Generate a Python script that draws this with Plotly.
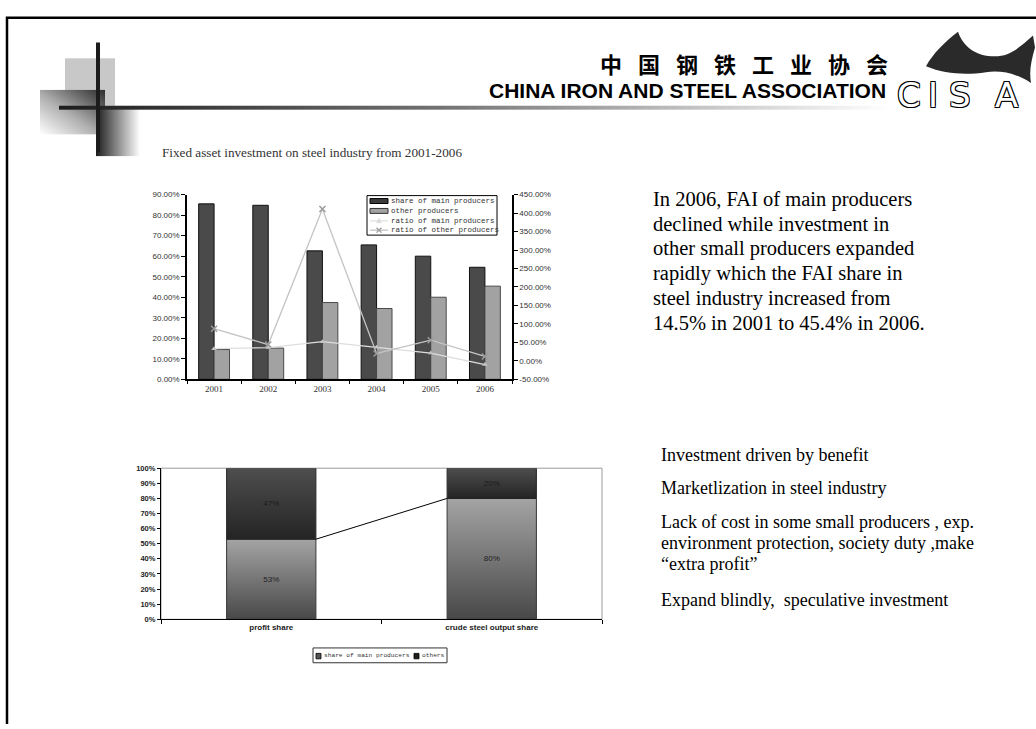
import base64
import plotly.graph_objects as go

W, H = 1036, 729

# ---------------- data ----------------
years = ["2001", "2002", "2003", "2004", "2005", "2006"]
main_share = [85.5, 84.8, 62.6, 65.5, 60.0, 54.6]
other_share = [14.5, 15.2, 37.4, 34.5, 40.0, 45.4]
ratio_main = [33, 36, 52, 37, 21, -10]
ratio_other = [87, 44, 411, 20, 56, 12]
top_names = ["share of main producers", "other producers",
             "ratio of main producers", "ratio of other producers"]
left_ticks = [0, 10, 20, 30, 40, 50, 60, 70, 80, 90]
right_ticks = [-50, 0, 50, 100, 150, 200, 250, 300, 350, 400, 450]

share_cats = ["profit share", "crude steel output share"]
main_part = [53, 80]
others_part = [47, 20]
bottom_names = ["share of main producers", "others"]
bottom_ticks = [0, 10, 20, 30, 40, 50, 60, 70, 80, 90, 100]

title_cn = "中国钢铁工业协会"
title_en = "CHINA IRON AND STEEL ASSOCIATION"
logo_letters = ["C", "I", "S", "A"]
subtitle = "Fixed asset investment on steel industry from 2001-2006"
para_lines = [
    "In 2006, FAI of main producers",
    "declined while investment in",
    "other small producers expanded",
    "rapidly which the FAI share in",
    "steel industry increased from",
    "14.5% in 2001 to 45.4% in 2006.",
]
bullet_lines = [
    "Investment driven by benefit",
    "Marketlization in steel industry",
    "Lack of cost in some small producers , exp.",
    "environment protection, society duty ,make",
    "\u201cextra profit\u201d",
    "Expand blindly,  speculative investment",
]


def px(x):
    return x / W


def py(y):
    return 1 - y / H


def svg_data(svg_text):
    return "data:image/svg+xml;base64," + base64.b64encode(svg_text.encode("utf-8")).decode("ascii")


def vgrad(top_col, bot_col):
    return svg_data(
        '<svg xmlns="http://www.w3.org/2000/svg" width="100" height="100" viewBox="0 0 100 100" '
        'preserveAspectRatio="none"><defs><linearGradient id="g" x1="0" y1="0" x2="0" y2="1">'
        f'<stop offset="0" stop-color="{top_col}"/><stop offset="1" stop-color="{bot_col}"/>'
        '</linearGradient></defs><rect x="0" y="0" width="100" height="100" fill="url(#g)"/></svg>')


# ---------------- background decoration (svg image) ----------------
svg = """<svg xmlns="http://www.w3.org/2000/svg" width="1036" height="729" viewBox="0 0 1036 729">
<defs>
<linearGradient id="hl" x1="0" y1="0" x2="1" y2="0">
<stop offset="0" stop-color="#1c1c1c"/><stop offset="0.45" stop-color="#707070"/><stop offset="1" stop-color="#ffffff"/>
</linearGradient>
<linearGradient id="sq" x1="1" y1="0" x2="0" y2="1">
<stop offset="0" stop-color="#2c2c2c"/><stop offset="0.55" stop-color="#b0b0b0"/><stop offset="1" stop-color="#ffffff"/>
</linearGradient>
<linearGradient id="vr" x1="0" y1="0" x2="1" y2="0">
<stop offset="0" stop-color="#1c1c1c"/><stop offset="1" stop-color="#ffffff"/>
</linearGradient>
</defs>
<rect x="65" y="55" width="50" height="48" fill="#c8c8c8"/>
<rect x="40" y="87" width="65" height="45" fill="url(#sq)"/>
<rect x="96" y="106" width="44" height="48" fill="url(#vr)"/>
<rect x="59" y="103" width="830" height="4" fill="url(#hl)"/>
<rect x="96" y="39" width="4" height="111" fill="#1c1c1c"/>
<path d="M7 731 L7 14 L1038 14" fill="none" stroke="#000" stroke-width="2.5"/>
<path d="M926 63 C933 50 945 38 958 28 C963 43 976 53 995 53 C1010 53 1021 43 1033 32 L1035 44 C1031 58 1029 68 1031 80 C1016 70 1001 67 986 69 C966 72 945 71 926 63 Z" fill="#2a2a2a"/>
</svg>"""

images = [dict(source=svg_data(svg), xref="paper", yref="paper", x=0, y=1, sizex=1, sizey=1,
               xanchor="left", yanchor="top", sizing="stretch", layer="below")]

fig = go.Figure()

# ---------------- top chart ----------------
fig.add_trace(go.Bar(x=years, y=main_share, name=top_names[0], xaxis="x", yaxis="y",
                     marker=dict(color="#4a4a4a", line=dict(color="#111111", width=1)),
                     showlegend=False))
fig.add_trace(go.Bar(x=years, y=other_share, name=top_names[1], xaxis="x", yaxis="y",
                     marker=dict(color="#a2a2a2", line=dict(color="#4a4a4a", width=1)),
                     showlegend=False))
fig.add_trace(go.Scatter(x=years, y=ratio_main, name=top_names[2], xaxis="x", yaxis="y2",
                         mode="lines+markers", line=dict(color="#dedede", width=1.3),
                         marker=dict(symbol="triangle-up", size=5, color="#c4c4c4"),
                         showlegend=False))
fig.add_trace(go.Scatter(x=years, y=ratio_other, name=top_names[3], xaxis="x", yaxis="y2",
                         mode="lines+markers", line=dict(color="#c4c4c4", width=1.3),
                         marker=dict(symbol="x-thin-open", size=6, color="#9a9a9a",
                                     line=dict(width=1.5, color="#9a9a9a")),
                         showlegend=False))

# ---------------- bottom chart ----------------
BW = 0.405
fig.add_trace(go.Bar(x=share_cats, y=main_part, name=bottom_names[0], xaxis="x2", yaxis="y3",
                     offsetgroup="s", width=BW,
                     marker=dict(color="rgba(0,0,0,0)", line=dict(color="#333333", width=1)),
                     text=[f"{v}%" for v in main_part], texttemplate="%{text}",
                     textposition="inside", insidetextanchor="middle", textangle=0,
                     textfont=dict(family="Liberation Sans", size=8, color="#222222"),
                     showlegend=False))
fig.add_trace(go.Bar(x=share_cats, y=others_part, base=main_part, name=bottom_names[1],
                     xaxis="x2", yaxis="y3", offsetgroup="s", width=BW,
                     marker=dict(color="rgba(0,0,0,0)", line=dict(color="#222222", width=1)),
                     text=[f"{v}%" for v in others_part], texttemplate="%{text}",
                     textposition="inside", insidetextanchor="middle", textangle=0,
                     textfont=dict(family="Liberation Sans", size=8, color="#1a1a1a"),
                     showlegend=False))
fig.add_trace(go.Scatter(x=[0 + BW / 2, 1 - BW / 2], y=[main_part[0], main_part[1]],
                         xaxis="x3", yaxis="y3", mode="lines",
                         line=dict(color="#000000", width=1), showlegend=False,
                         hoverinfo="skip"))

# gradient fills under the (transparent) stacked bars
grad_main = vgrad("#a4a4a4", "#484848")
grad_oth = vgrad("#4e4e4e", "#242424")
for i, (m, o) in enumerate(zip(main_part, others_part)):
    images.append(dict(source=grad_main, xref="x2", yref="y3", x=i - BW / 2, y=m,
                       sizex=BW, sizey=m, xanchor="left", yanchor="top",
                       sizing="stretch", layer="below"))
    images.append(dict(source=grad_oth, xref="x2", yref="y3", x=i - BW / 2, y=m + o,
                       sizex=BW, sizey=o, xanchor="left", yanchor="top",
                       sizing="stretch", layer="below"))

shapes = []
annotations = []

# ---------------- manual legend for top chart ----------------
lx0, lx1, ly0, ly1 = 367, 497, 194, 234
shapes.append(dict(type="rect", xref="paper", yref="paper", x0=px(lx0), x1=px(lx1),
                   y0=py(ly1), y1=py(ly0), line=dict(color="#000", width=1),
                   fillcolor="white", layer="above"))
rows = [199.5, 209.5, 219.5, 229]
shapes.append(dict(type="rect", xref="paper", yref="paper", x0=px(370), x1=px(388),
                   y0=py(rows[0] + 2.5), y1=py(rows[0] - 2.5), fillcolor="#3a3a3a",
                   line=dict(color="#000", width=1), layer="above"))
shapes.append(dict(type="rect", xref="paper", yref="paper", x0=px(370), x1=px(388),
                   y0=py(rows[1] + 2.5), y1=py(rows[1] - 2.5), fillcolor="#a2a2a2",
                   line=dict(color="#333", width=1), layer="above"))
shapes.append(dict(type="line", xref="paper", yref="paper", x0=px(370), x1=px(388),
                   y0=py(rows[2]), y1=py(rows[2]), line=dict(color="#e2e2e2", width=1.3),
                   layer="above"))
shapes.append(dict(type="line", xref="paper", yref="paper", x0=px(370), x1=px(388),
                   y0=py(rows[3]), y1=py(rows[3]), line=dict(color="#c4c4c4", width=1.3),
                   layer="above"))
cx = 379
shapes.append(dict(type="path", xref="paper", yref="paper",
                   path=f"M{px(cx-2.5)},{py(rows[2]+2)} L{px(cx+2.5)},{py(rows[2]+2)} L{px(cx)},{py(rows[2]-2.5)} Z",
                   fillcolor="#dadada", line=dict(color="#dadada", width=0.5), layer="above"))
shapes.append(dict(type="path", xref="paper", yref="paper",
                   path=f"M{px(cx-2.5)},{py(rows[3]-2.5)} L{px(cx+2.5)},{py(rows[3]+2.5)} M{px(cx-2.5)},{py(rows[3]+2.5)} L{px(cx+2.5)},{py(rows[3]-2.5)}",
                   line=dict(color="#9a9a9a", width=1.2), layer="above"))
for name, ry in zip(top_names, rows):
    annotations.append(dict(text=name, x=px(389), y=py(ry), xref="paper", yref="paper",
                            xanchor="left", yanchor="middle", showarrow=False,
                            font=dict(family="Liberation Mono", size=7.5, color="#333")))

# ---------------- manual legend for bottom chart ----------------
shapes.append(dict(type="rect", xref="paper", yref="paper", x0=px(313), x1=px(447),
                   y0=py(667), y1=py(652), line=dict(color="#333", width=1),
                   fillcolor="white", layer="above"))
sw_colors = ["#555555", "#1e1e1e"]
sw_x = [316, 414]
for name, col, sx in zip(bottom_names, sw_colors, sw_x):
    shapes.append(dict(type="rect", xref="paper", yref="paper", x0=px(sx), x1=px(sx + 5),
                       y0=py(663), y1=py(657.5), fillcolor=col,
                       line=dict(color="#000", width=0.8), layer="above"))
    annotations.append(dict(text=name, x=px(sx + 6), y=py(660), xref="paper", yref="paper",
                            xanchor="left", yanchor="middle", showarrow=False,
                            font=dict(family="Liberation Mono", size=6.2, color="#333")))

# bottom chart frame
shapes.append(dict(type="rect", xref="x2 domain", yref="y3 domain", x0=0, x1=1, y0=0, y1=1,
                   line=dict(color="#9a9a9a", width=1), layer="below"))

# ---------------- texts ----------------
for i, ch in enumerate(title_cn):
    annotations.append(dict(text=ch, x=px(611 + 38 * i), y=py(60), xref="paper", yref="paper",
                            xanchor="center", yanchor="middle", showarrow=False,
                            font=dict(family="Noto Sans CJK SC", size=22, color="#000",
                                      weight="bold")))
annotations.append(dict(text=title_en, x=px(888), y=py(88), xref="paper", yref="paper",
                        xanchor="right", yanchor="middle", showarrow=False,
                        font=dict(family="Liberation Sans", size=21, color="#000",
                                  weight="bold")))
for ch, lx in zip(logo_letters, [909, 933, 960, 1006]):
    annotations.append(dict(text=ch, x=px(lx), y=py(92), xref="paper", yref="paper",
                            xanchor="center", yanchor="middle", showarrow=False,
                            font=dict(family="DejaVu Sans", size=34, color="#ffffff",
                                      shadow="1px 1px 0 #000, -1px -1px 0 #000, 1px -1px 0 #000, -1px 1px 0 #000")))
annotations.append(dict(text=subtitle, x=px(160), y=py(150), xref="paper", yref="paper",
                        xanchor="left", yanchor="middle", showarrow=False,
                        font=dict(family="Liberation Serif", size=13.2, color="#333")))
for i, line in enumerate(para_lines):
    annotations.append(dict(text=line, x=px(651), y=py(198 + 25 * i), xref="paper",
                            yref="paper", xanchor="left", yanchor="middle", showarrow=False,
                            font=dict(family="Liberation Serif", size=20.5, color="#000")))
for line, ly in zip(bullet_lines, [457, 490, 524, 546, 567, 603]):
    annotations.append(dict(text=line, x=px(659), y=py(ly), xref="paper", yref="paper",
                            xanchor="left", yanchor="middle", showarrow=False,
                            font=dict(family="Liberation Serif", size=18, color="#000")))

tickfont_small = dict(family="Liberation Sans", size=8, color="#333")

fig.update_layout(
    width=W, height=H, autosize=False,
    margin=dict(l=0, r=0, t=0, b=0, pad=0),
    paper_bgcolor="white", plot_bgcolor="rgba(0,0,0,0)",
    barmode="group", bargap=0.43, bargroupgap=0,
    showlegend=False,
    images=images,
    xaxis=dict(domain=[px(187), px(512)], anchor="y", type="category", range=[-0.5, 5.5],
               tickson="boundaries", ticks="outside", ticklen=3, tickcolor="#000",
               showline=True, linecolor="#000", linewidth=1.5, showgrid=False,
               zeroline=False,
               tickfont=dict(family="Liberation Serif", size=9, color="#333")),
    yaxis=dict(domain=[py(380), py(193)], anchor="x", range=[0, 90], tickvals=left_ticks,
               ticktext=[f"{v:.2f}%" for v in left_ticks], ticks="outside", ticklen=4,
               tickcolor="#000", showline=True, linecolor="#000", linewidth=1.5,
               showgrid=False, zeroline=False, tickfont=tickfont_small),
    yaxis2=dict(overlaying="y", side="right", anchor="x", range=[-50, 450],
                tickvals=right_ticks, ticktext=[f"{v:.2f}%" for v in right_ticks],
                ticks="outside", ticklen=4, tickcolor="#000", showline=True,
                linecolor="#000", linewidth=1.5, showgrid=False, zeroline=False,
                tickfont=tickfont_small),
    xaxis2=dict(domain=[px(161), px(602)], anchor="y3", type="category", range=[-0.5, 1.5],
                tickson="boundaries", ticks="outside", ticklen=4, tickcolor="#000",
                showline=True, linecolor="#000", linewidth=1.2, showgrid=False,
                zeroline=False,
                tickfont=dict(family="Liberation Sans", size=8, color="#222", weight="bold")),
    xaxis3=dict(overlaying="x2", anchor="y3", range=[-0.5, 1.5], visible=False),
    yaxis3=dict(domain=[py(623), py(470)], anchor="x2", range=[0, 100], tickvals=bottom_ticks,
                ticktext=[f"{v}%" for v in bottom_ticks], ticks="outside", ticklen=3,
                tickcolor="#000", showline=True, linecolor="#000", linewidth=1.2,
                showgrid=False, zeroline=False,
                tickfont=dict(family="Liberation Sans", size=7.5, color="#222",
                              weight="bold")),
    shapes=shapes,
    annotations=annotations,
)

fig.write_html("out.html", config={"displayModeBar": False},
               post_script="document.body.style.margin='0';document.body.style.overflow='hidden';")
